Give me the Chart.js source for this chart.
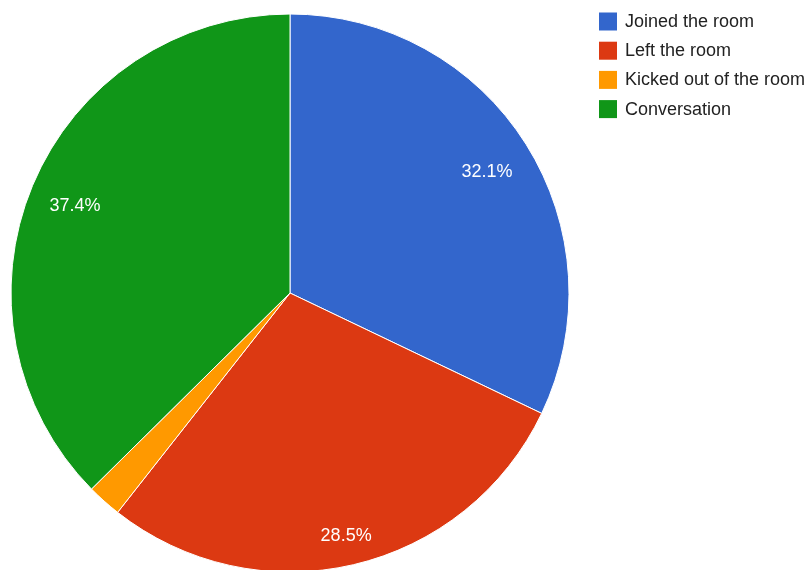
<!DOCTYPE html>
<html>
<head>
<meta charset="utf-8">
<script src="https://cdn.jsdelivr.net/npm/chart.js@4"></script>
<style>
html,body{margin:0;padding:0;background:#fff;}
#wrap{width:812px;height:570px;}
</style>
</head>
<body>
<div id="wrap"><canvas id="c" width="812" height="570"></canvas></div>
<script>
const categories = ["Joined the room", "Left the room", "Kicked out of the room", "Conversation"];
const values = [32.1, 28.5, 2.0, 37.4];
const colors = ["#3366cc", "#dc3912", "#ff9900", "#109618"];
const sliceLabels = ["32.1%", "28.5%", "", "37.4%"];

const FONT = '"Liberation Sans", Arial, sans-serif';

const labelPlugin = {
  id: 'sliceText',
  afterDatasetsDraw(chart, args, opts) {
    const ctx = chart.ctx;
    const meta = chart.getDatasetMeta(0);
    ctx.save();
    ctx.font = '18px ' + FONT;
    ctx.fillStyle = '#ffffff';
    ctx.textAlign = 'center';
    ctx.textBaseline = 'middle';
    meta.data.forEach((arc, i) => {
      const txt = sliceLabels[i];
      if (!txt) return;
      const p = arc.getProps(['x','y','startAngle','endAngle','outerRadius'], true);
      const mid = (p.startAngle + p.endAngle) / 2;
      const d = p.outerRadius * opts.fractions[i];
      ctx.fillText(txt, p.x + Math.cos(mid) * d, p.y + Math.sin(mid) * d + opts.dy);
    });
    ctx.restore();
  }
};

const legendPlugin = {
  id: 'sideLegend',
  afterDraw(chart, args, opts) {
    const ctx = chart.ctx;
    ctx.save();
    ctx.font = '18px ' + FONT;
    ctx.textBaseline = 'middle';
    ctx.textAlign = 'left';
    chart.data.labels.forEach((lab, i) => {
      const top = opts.top + i * opts.step;
      ctx.fillStyle = chart.data.datasets[0].backgroundColor[i];
      ctx.fillRect(opts.x, top, opts.box, opts.box);
      ctx.fillStyle = '#222222';
      ctx.fillText(lab, opts.x + opts.box + 8, top + opts.box / 2 + 0.5);
    });
    ctx.restore();
  }
};

new Chart(document.getElementById('c'), {
  type: 'pie',
  data: {
    labels: categories,
    datasets: [{
      data: values,
      backgroundColor: colors,
      borderColor: '#ffffff',
      borderWidth: 1,
      radius: 279,
      clip: false
    }]
  },
  options: {
    responsive: false,
    devicePixelRatio: 1,
    animation: false,
    layout: { padding: { top: 16, left: 0, right: 232, bottom: 0 } },
    plugins: {
      legend: { display: false },
      tooltip: { enabled: false },
      sliceText: { fractions: [0.835, 0.885, 0.8, 0.835], dy: 3 },
      sideLegend: { x: 599, top: 12.5, step: 29.2, box: 18 }
    }
  },
  plugins: [labelPlugin, legendPlugin]
});
</script>
</body>
</html>
